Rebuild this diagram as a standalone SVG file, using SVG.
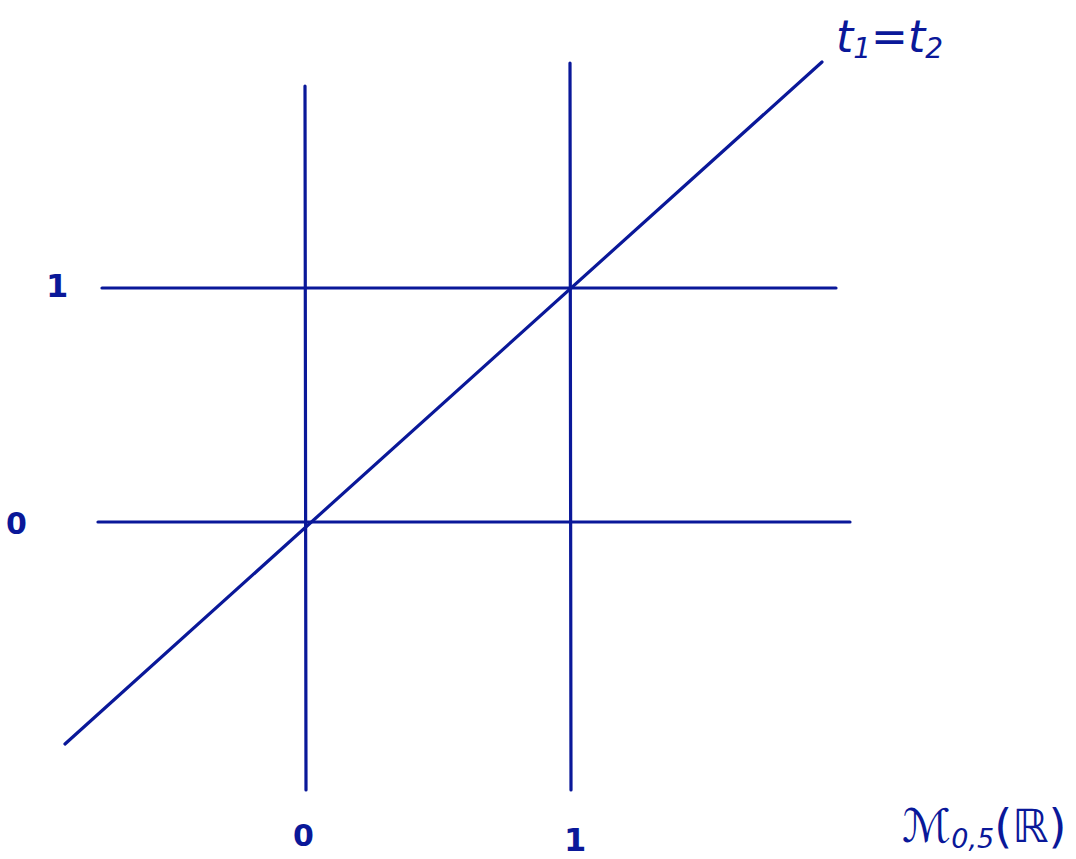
<svg xmlns="http://www.w3.org/2000/svg" width="1076" height="859" viewBox="0 0 1076 859">
<style>
.ln{stroke:#0a1899;stroke-width:3.2;stroke-linecap:round;fill:none}
.lb{fill:#0a1899;font-family:"DejaVu Sans",sans-serif}
</style>
<rect width="1076" height="859" fill="#ffffff"/>
<g id="connectors">
<line class="ln" x1="305" y1="86" x2="306" y2="790"/>
<line class="ln" x1="570" y1="63" x2="571" y2="790"/>
<line class="ln" x1="102" y1="288" x2="836" y2="288"/>
<line class="ln" x1="98" y1="522" x2="850" y2="522"/>
<line class="ln" x1="65" y1="744" x2="822" y2="62"/>
</g>
<g id="label-y1"><text class="lb" x="46" y="297" font-size="32" font-weight="bold">1</text></g>
<g id="label-y0"><text class="lb" x="6" y="534" font-size="30" font-weight="bold">0</text></g>
<g id="label-x0"><text class="lb" x="293" y="846" font-size="30" font-weight="bold">0</text></g>
<g id="label-x1"><text class="lb" x="564" y="851" font-size="32" font-weight="bold">1</text></g>
<g id="label-diag"><text class="lb" x="836" y="52" font-size="44" font-style="italic">t<tspan font-size="28" dy="6">1</tspan><tspan dy="-6">=t</tspan><tspan font-size="28" dy="6">2</tspan></text></g>
<g id="label-space"><text class="lb" x="902" y="842" font-size="46" font-style="italic">ℳ<tspan font-size="27" dy="6">0,5</tspan><tspan dy="-6" font-style="normal">(ℝ)</tspan></text></g>
</svg>
